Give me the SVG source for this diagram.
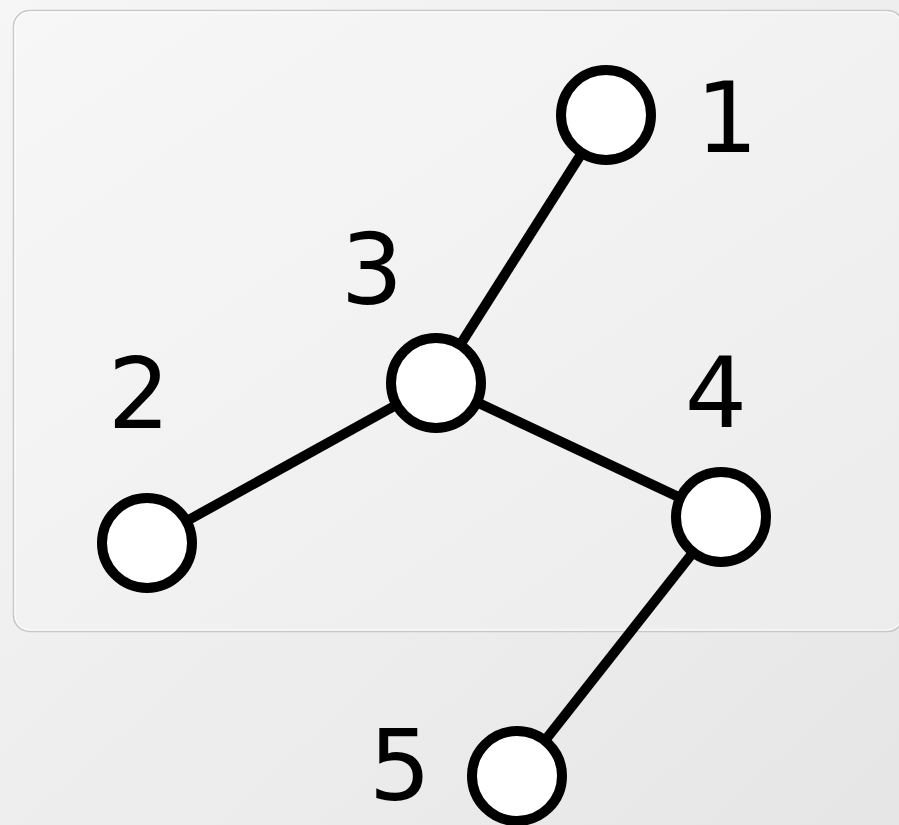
<svg xmlns="http://www.w3.org/2000/svg" width="899" height="825" viewBox="0 0 899 825">
<defs>
<linearGradient id="bg" x1="0" y1="0" x2="1" y2="1">
<stop offset="0" stop-color="#f6f6f6"/>
<stop offset="1" stop-color="#e6e6e6"/>
</linearGradient>
<linearGradient id="panel" x1="0" y1="0" x2="1" y2="1">
<stop offset="0" stop-color="#f7f7f7"/>
<stop offset="1" stop-color="#ececec"/>
</linearGradient>
</defs>
<style>
.node{fill:#fff;stroke:#000;stroke-width:10}
.edge{stroke:#000;stroke-width:10;fill:none}
.lbl{font-family:"DejaVu Sans","Verdana",sans-serif;font-size:98px;fill:#000;text-anchor:middle}
</style>
<rect x="0" y="0" width="899" height="825" fill="url(#bg)"/>
<rect x="13.5" y="10.5" width="890" height="621" rx="16" fill="url(#panel)" stroke="#c8c8c8" stroke-width="1.5"/>
<rect x="15" y="12" width="887" height="618" rx="15" fill="none" stroke="#ffffff" stroke-width="1"/>
<g id="edges">
<line class="edge" x1="606" y1="115" x2="436" y2="383"/>
<line class="edge" x1="436" y1="383" x2="147" y2="543"/>
<line class="edge" x1="436" y1="383" x2="721" y2="517"/>
<line class="edge" x1="721" y1="517" x2="517" y2="776"/>
</g>
<g id="node1"><circle class="node" cx="606" cy="115" r="45"/><text class="lbl" x="727" y="152">1</text></g>
<g id="node2"><circle class="node" cx="147" cy="543" r="45"/><text class="lbl" x="139" y="428">2</text></g>
<g id="node3"><circle class="node" cx="436" cy="383" r="45"/><text class="lbl" x="372" y="304">3</text></g>
<g id="node4"><circle class="node" cx="721" cy="517" r="45"/><text class="lbl" x="716" y="427">4</text></g>
<g id="node5"><circle class="node" cx="517" cy="776" r="45"/><text class="lbl" x="400" y="800">5</text></g>
</svg>
